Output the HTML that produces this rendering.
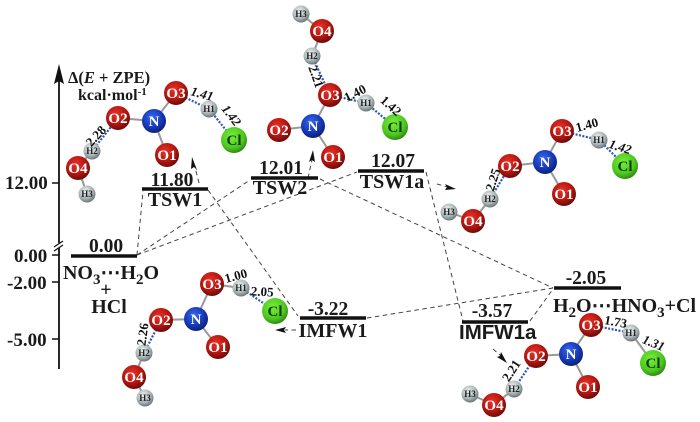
<!DOCTYPE html>
<html><head><meta charset="utf-8"><style>
html,body{margin:0;padding:0;background:#fff;width:700px;height:422px;overflow:hidden}
svg{display:block;filter:blur(0.35px)}
text{font-family:"Liberation Serif",serif;font-weight:bold;fill:#1a1a1a}
.e{font-size:20px;text-anchor:middle}
.n{font-size:19.5px;text-anchor:middle}
.a{font-size:15px;fill:#fff;text-anchor:middle}
.h{font-size:9px;fill:#222;text-anchor:middle}
.c{font-size:15px;fill:#143a10;text-anchor:middle}
.d{font-size:13px;text-anchor:middle;fill:#111}
.b{stroke:#999;stroke-width:2;fill:none}
.w{stroke:#2c56b8;stroke-width:2.2;stroke-dasharray:2 1.5;fill:none}
.l{stroke:#111;stroke-width:3.4}
.k{stroke:#444;stroke-width:1;stroke-dasharray:4.5 3.5;fill:none}
</style></head><body>
<svg width="700" height="422" viewBox="0 0 700 422" xmlns="http://www.w3.org/2000/svg">
<defs>
<radialGradient id="O" cx=".42" cy=".35" r=".7"><stop offset="0" stop-color="#e8332a"/><stop offset=".6" stop-color="#b3150f"/><stop offset="1" stop-color="#5c0a08"/></radialGradient>
<radialGradient id="N" cx=".42" cy=".35" r=".7"><stop offset="0" stop-color="#3a68ee"/><stop offset=".6" stop-color="#1638b8"/><stop offset="1" stop-color="#0b1c66"/></radialGradient>
<radialGradient id="H" cx=".42" cy=".35" r=".7"><stop offset="0" stop-color="#f4f6f6"/><stop offset=".6" stop-color="#a9b4b6"/><stop offset="1" stop-color="#5c686a"/></radialGradient>
<radialGradient id="C" cx=".42" cy=".35" r=".7"><stop offset="0" stop-color="#78ee3c"/><stop offset=".65" stop-color="#4cc81e"/><stop offset="1" stop-color="#2a7a10"/></radialGradient>
</defs>

<!-- axis -->
<g stroke="#111" fill="none">
<line x1="59" y1="75" x2="59" y2="243" stroke-width="1.8"/>
<line x1="59" y1="248" x2="59" y2="369" stroke-width="1.8"/>
<line x1="52" y1="183" x2="59" y2="183" stroke-width="1.5"/>
<line x1="52" y1="255" x2="59" y2="255" stroke-width="1.5"/>
<line x1="52" y1="282" x2="59" y2="282" stroke-width="1.5"/>
<line x1="52" y1="339" x2="59" y2="339" stroke-width="1.5"/>
<line x1="54" y1="247" x2="63" y2="241" stroke-width="1.2"/>
<line x1="54" y1="251" x2="63" y2="245" stroke-width="1.2"/>
</g>
<polygon points="59,64 54,84 59,81 64,84" fill="#111"/>
<text x="5" y="189" style="font-size:19px">12.00</text>
<text x="14" y="262" style="font-size:19px">0.00</text>
<text x="7" y="289" style="font-size:19px">-2.00</text>
<text x="7" y="346" style="font-size:19px">-5.00</text>
<text x="68" y="83" style="font-size:16.5px">Δ(<tspan font-style="italic">E</tspan> + ZPE)</text>
<text x="78" y="100" style="font-size:16px">kcal·mol<tspan dy="-5" font-size="11">-1</tspan></text>

<!-- dashed connectors -->
<g class="k">
<line x1="137" y1="255" x2="143" y2="191"/>
<line x1="137" y1="255" x2="250" y2="180"/>
<line x1="137" y1="255" x2="357" y2="172"/>
<line x1="208" y1="190" x2="298" y2="316"/>
<line x1="320" y1="179" x2="553" y2="288"/>
<line x1="426" y1="172" x2="463" y2="321"/>
<line x1="367" y1="318" x2="553" y2="288"/>
<line x1="530" y1="321" x2="553" y2="289"/>
<line x1="199" y1="183" x2="195" y2="167"/>
<line x1="308" y1="178" x2="312" y2="160"/>
<line x1="437" y1="184" x2="448" y2="187"/>
<line x1="296" y1="330" x2="285" y2="330"/>
<line x1="493" y1="349" x2="501" y2="356"/>
</g>
<g fill="#111">
<polygon points="192,157 197,170 194,167 191,169"/>
<polygon points="313,150 315,162 312,160 309,162"/>
<polygon points="456,189 445,190 447,187 445,184"/>
<polygon points="275,330 286,327 284,330 286,333"/>
<polygon points="507,363 497,357 500,356 501,352"/>
</g>

<!-- levels -->
<line class="l" x1="71" y1="256" x2="137" y2="256"/>
<line class="l" x1="142" y1="189" x2="208" y2="189"/>
<line class="l" x1="251" y1="178" x2="318" y2="178"/>
<line class="l" x1="358" y1="171" x2="424" y2="171"/>
<line class="l" x1="300" y1="318" x2="366" y2="318"/>
<line class="l" x1="554" y1="288" x2="621" y2="288"/>
<line class="l" x1="462" y1="322" x2="528" y2="322"/>

<text class="n" x="106" y="252">0.00</text>
<text class="e" x="111" y="279">NO<tspan dy="5" font-size="15">3</tspan><tspan dy="-5">⋯</tspan>H<tspan dy="5" font-size="15">2</tspan><tspan dy="-5">O</tspan></text>
<text class="e" x="106" y="296">+</text>
<text class="e" x="109" y="313">HCl</text>
<text class="n" x="172" y="186">11.80</text>
<text class="e" x="175" y="206">TSW1</text>
<text class="n" x="281" y="174">12.01</text>
<text class="e" x="280" y="194">TSW2</text>
<text class="n" x="393" y="167">12.07</text>
<text class="e" x="392" y="188">TSW1a</text>
<text class="n" x="328" y="315">-3.22</text>
<text class="e" x="333" y="337">IMFW1</text>
<text class="n" x="586" y="284">-2.05</text>
<text class="e" x="624.5" y="312">H<tspan dy="5" font-size="15">2</tspan><tspan dy="-5">O⋯HNO</tspan><tspan dy="5" font-size="15">3</tspan><tspan dy="-5">+Cl</tspan></text>
<text class="n" x="492" y="317">-3.57</text>
<text x="459" y="339" style="font-size:20.5px;font-family:'Liberation Sans',sans-serif">IMFW1a</text>

<!-- Molecule TSW1 -->
<g>
<path class="b" d="M176 93L154 121M154 121L118 118M154 121L167 155M78 168L87 194M78 168L92 151"/>
<path class="w" d="M92 151L118 118M176 93L209 109L234 140"/>
<circle cx="176" cy="93" r="12" fill="url(#O)"/><text class="a" x="176" y="98">O3</text>
<circle cx="154" cy="121" r="12" fill="url(#N)"/><text class="a" x="154" y="126">N</text>
<circle cx="118" cy="118" r="12" fill="url(#O)"/><text class="a" x="118" y="123">O2</text>
<circle cx="167" cy="155" r="12" fill="url(#O)"/><text class="a" x="167" y="160">O1</text>
<circle cx="209" cy="109" r="8.5" fill="url(#H)"/><text class="h" x="209" y="112">H1</text>
<circle cx="234" cy="140" r="13" fill="url(#C)"/><text class="c" x="234" y="145">Cl</text>
<circle cx="92" cy="151" r="8.5" fill="url(#H)"/><text class="h" x="92" y="154">H2</text>
<circle cx="78" cy="168" r="12" fill="url(#O)"/><text class="a" x="78" y="173">O4</text>
<circle cx="87" cy="194" r="8.5" fill="url(#H)"/><text class="h" x="87" y="197">H3</text>
<text class="d" transform="translate(99,139) rotate(-47)">2.28</text>
<text class="d" transform="translate(201,98) rotate(15)" font-style="italic">1.41</text>
<text class="d" transform="translate(228,118) rotate(52)" font-style="italic">1.42</text>
</g>

<!-- Molecule TSW2 -->
<g>
<path class="b" d="M301 14L322 31L312 56M330 95L313 126L279 130M313 126L333 157"/>
<path class="w" d="M312 56L330 95M330 95L366 103L395 127"/>
<circle cx="301" cy="14" r="8.5" fill="url(#H)"/><text class="h" x="301" y="17">H3</text>
<circle cx="322" cy="31" r="12" fill="url(#O)"/><text class="a" x="322" y="36">O4</text>
<circle cx="312" cy="56" r="8.5" fill="url(#H)"/><text class="h" x="312" y="59">H2</text>
<circle cx="330" cy="95" r="12" fill="url(#O)"/><text class="a" x="330" y="100">O3</text>
<circle cx="366" cy="103" r="8.5" fill="url(#H)"/><text class="h" x="366" y="106">H1</text>
<circle cx="395" cy="127" r="13" fill="url(#C)"/><text class="c" x="395" y="132">Cl</text>
<circle cx="313" cy="126" r="12" fill="url(#N)"/><text class="a" x="313" y="131">N</text>
<circle cx="279" cy="130" r="12" fill="url(#O)"/><text class="a" x="279" y="135">O2</text>
<circle cx="333" cy="157" r="12" fill="url(#O)"/><text class="a" x="333" y="162">O1</text>
<text class="d" transform="translate(312,78) rotate(70)">2.21</text>
<text class="d" transform="translate(357,97) rotate(-27)">1.40</text>
<text class="d" transform="translate(388,109) rotate(42)">1.42</text>
</g>

<!-- Molecule TSW1a -->
<g>
<path class="b" d="M562 131L545 162L510 166M545 162L564 194M490 199L473 221L449 212"/>
<path class="w" d="M490 199L510 166M562 131L599 140L625 166"/>
<circle cx="562" cy="131" r="12" fill="url(#O)"/><text class="a" x="562" y="136">O3</text>
<circle cx="599" cy="140" r="8.5" fill="url(#H)"/><text class="h" x="599" y="143">H1</text>
<circle cx="625" cy="166" r="13" fill="url(#C)"/><text class="c" x="625" y="171">Cl</text>
<circle cx="545" cy="162" r="12" fill="url(#N)"/><text class="a" x="545" y="167">N</text>
<circle cx="510" cy="166" r="12" fill="url(#O)"/><text class="a" x="510" y="171">O2</text>
<circle cx="564" cy="194" r="12" fill="url(#O)"/><text class="a" x="564" y="199">O1</text>
<circle cx="490" cy="199" r="8.5" fill="url(#H)"/><text class="h" x="490" y="202">H2</text>
<circle cx="473" cy="221" r="12" fill="url(#O)"/><text class="a" x="473" y="226">O4</text>
<circle cx="449" cy="212" r="8.5" fill="url(#H)"/><text class="h" x="449" y="215">H3</text>
<text class="d" transform="translate(497,181) rotate(-72)">2.25</text>
<text class="d" transform="translate(588,129) rotate(-15)">1.40</text>
<text class="d" transform="translate(619,151) rotate(17)" font-style="italic">1.42</text>
</g>

<!-- Molecule IMFW1 -->
<g>
<path class="b" d="M212 284L241 288M212 284L196 319L161 320M196 319L218 347M144 353L134 377L145 398"/>
<path class="w" d="M241 288L275 311M161 320L144 353"/>
<circle cx="212" cy="284" r="12" fill="url(#O)"/><text class="a" x="212" y="289">O3</text>
<circle cx="241" cy="288" r="8.5" fill="url(#H)"/><text class="h" x="241" y="291">H1</text>
<circle cx="275" cy="311" r="13" fill="url(#C)"/><text class="c" x="275" y="316">Cl</text>
<circle cx="196" cy="319" r="12" fill="url(#N)"/><text class="a" x="196" y="324">N</text>
<circle cx="161" cy="320" r="12" fill="url(#O)"/><text class="a" x="161" y="325">O2</text>
<circle cx="218" cy="347" r="12" fill="url(#O)"/><text class="a" x="218" y="352">O1</text>
<circle cx="144" cy="353" r="8.5" fill="url(#H)"/><text class="h" x="144" y="356">H2</text>
<circle cx="134" cy="377" r="12" fill="url(#O)"/><text class="a" x="134" y="382">O4</text>
<circle cx="145" cy="398" r="8.5" fill="url(#H)"/><text class="h" x="145" y="401">H3</text>
<text class="d" transform="translate(147,335) rotate(-82)">2.26</text>
<text class="d" transform="translate(237,280) rotate(-15)">1.00</text>
<text class="d" transform="translate(262,296) rotate(3)">2.05</text>
</g>

<!-- Molecule IMFW1a -->
<g>
<path class="b" d="M591 325L571 354L536 356M571 354L588 387M514 389L494 405L470 394M631 333L653 363"/>
<path class="w" d="M536 356L514 389M591 325L631 333"/>
<circle cx="591" cy="325" r="12" fill="url(#O)"/><text class="a" x="591" y="330">O3</text>
<circle cx="631" cy="333" r="8.5" fill="url(#H)"/><text class="h" x="631" y="336">H1</text>
<circle cx="653" cy="363" r="13" fill="url(#C)"/><text class="c" x="653" y="368">Cl</text>
<circle cx="571" cy="354" r="12" fill="url(#N)"/><text class="a" x="571" y="359">N</text>
<circle cx="536" cy="356" r="12" fill="url(#O)"/><text class="a" x="536" y="361">O2</text>
<circle cx="588" cy="387" r="12" fill="url(#O)"/><text class="a" x="588" y="392">O1</text>
<circle cx="514" cy="389" r="8.5" fill="url(#H)"/><text class="h" x="514" y="392">H2</text>
<circle cx="494" cy="405" r="12" fill="url(#O)"/><text class="a" x="494" y="410">O4</text>
<circle cx="470" cy="394" r="8.5" fill="url(#H)"/><text class="h" x="470" y="397">H3</text>
<text class="d" transform="translate(515,373) rotate(-57)">2.21</text>
<text class="d" transform="translate(615,326) rotate(10)">1.73</text>
<text class="d" transform="translate(652,347) rotate(22)" font-style="italic">1.31</text>
</g>
</svg>
</body></html>
